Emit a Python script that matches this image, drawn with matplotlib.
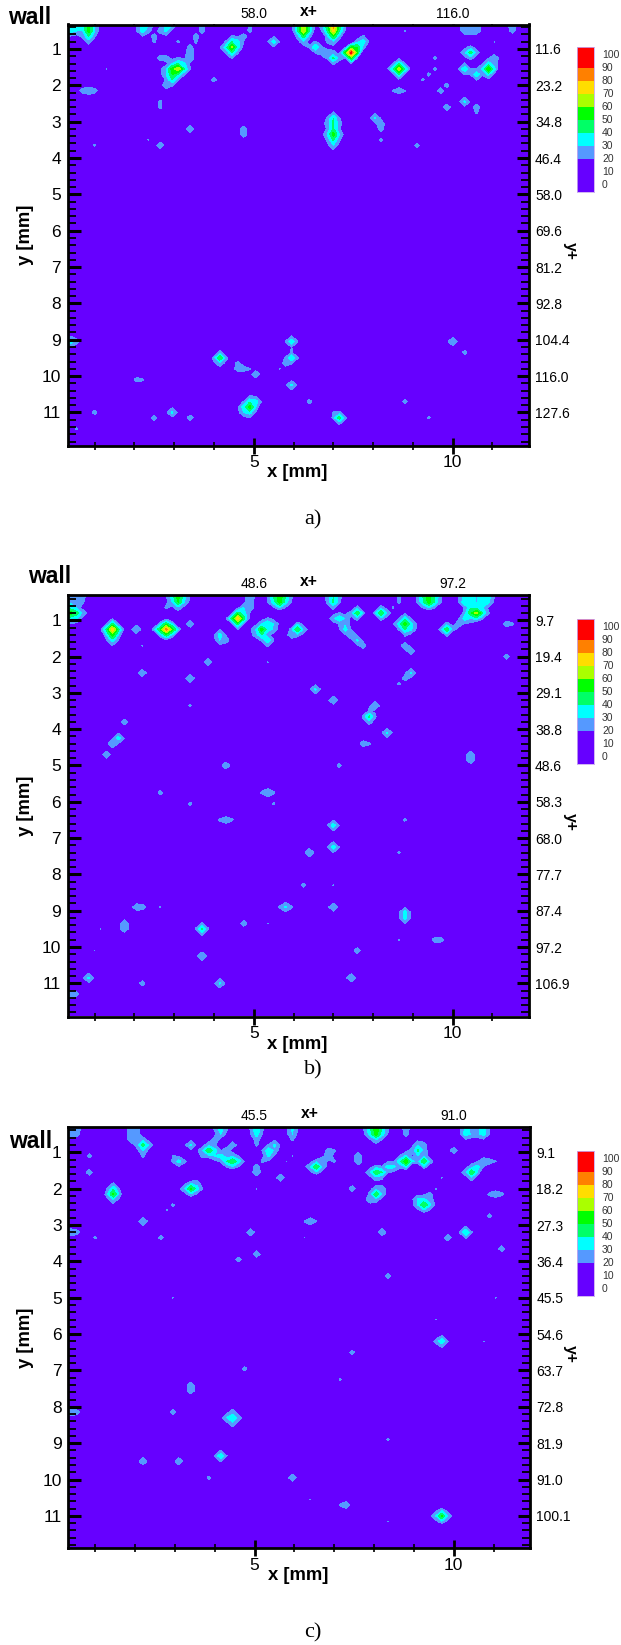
import numpy as np
import matplotlib
matplotlib.use("Agg")
import matplotlib.pyplot as plt
from matplotlib.colors import ListedColormap, BoundaryNorm

W, H = 621, 1645
plt.rcParams['font.family'] = ['Liberation Sans', 'DejaVu Sans']

LEVELS = [0, 10, 20, 30, 40, 50, 60, 70, 80, 90, 100]
COLORS = ['#6600FF', '#6600FF', '#5599FF', '#00FFFF', '#00FF66', '#00FF00',
          '#AAFF00', '#FFDD00', '#FF8000', '#FF0000']
BACKGROUND = 5

# (x mm, y mm, value)
points_a = [
 (.4,.35,35),(.4,.5,35),(.55,.35,32),(.55,.5,30),(.8,.35,55),(.8,.5,55),(.8,.65,40),(.8,.8,25),(.95,.35,30),(.95,.5,28),(.65,.65,22),
 (2.15,.35,35),(2.15,.5,35),(2.3,.35,30),(2.3,.5,25),
 (2.85,.35,35),(2.85,.5,32),(3.0,.35,30),(2.7,.5,25),(2.55,.65,25),(2.45,.8,22),(3.15,.8,22),
 (3.7,.35,25),(3.7,.5,25),(3.6,.65,25),(3.55,.8,22),(3.45,.95,25),(3.45,1.1,28),
 (3.15,1.5,70),(3.0,1.5,55),(3.15,1.35,40),(3.0,1.35,30),(2.85,1.2,25),(2.7,1.2,25),(2.85,1.5,30),(3.0,1.65,50),(3.0,1.8,40),(2.85,1.95,28),
 (3.3,1.5,40),(3.3,1.35,32),(3.45,1.25,28),(3.15,1.65,35),(2.85,1.65,30),
 (3.95,1.9,24),(1.25,1.5,21),(.7,2.2,25),(.85,2.2,28),(1.0,2.2,25),(2.7,2.45,23),(2.7,2.6,23),(3.4,3.15,28),(4.8,3.15,26),(4.8,3.3,26),
 (2.35,3.55,21),(2.7,3.65,27),(1.0,3.65,22),
 (4.4,.95,62),(4.25,.95,35),(4.55,.8,35),(4.4,.8,40),(4.55,.95,28),(4.4,1.1,40),(4.7,.65,25),(4.85,.5,23),(4.85,.35,22),(5.55,.8,35),
 (6.2,.35,70),(6.2,.5,70),(6.2,.65,45),(6.2,.8,28),(6.05,.35,28),(6.35,.35,28),(6.05,.5,25),(6.35,.5,25),
 (7,.35,85),(7,.5,75),(7,.65,50),(6.85,.35,45),(7.15,.35,40),(6.85,.5,35),(7.15,.5,35),(6.85,.8,22),(7,.8,28),
 (6.5,1.0,40),(6.65,1.1,25),(6.85,1.15,28),(7,1.3,42),(7.15,1.25,25),
 (7.45,1.05,95),(7.6,.9,50),(7.75,.75,35),(7.75,.6,22),(7.3,1.05,30),(7.45,1.2,35),
 (8.6,1.5,70),(8.6,1.35,35),(8.45,1.5,30),(8.75,1.5,30),(8.6,1.65,30),(8.85,.45,21),
 (9.55,1.3,23),(9.5,1.5,23),(9.4,1.65,23),(9.3,1.8,22),
 (10.4,1.05,45),(10.25,1.05,28),(10.55,1.05,25),(10.25,1.5,38),
 (10.95,1.5,60),(10.95,1.35,35),(11.1,1.2,28),(10.95,1.65,28),(11.1,1.35,25),(10.55,1.75,38),(10.7,1.75,22),(10.85,1.65,25),
 (10.25,.35,28),(10.4,.35,28),(10.55,.35,28),(10.25,.5,28),(10.4,.5,28),(10.55,.5,28),(11.5,.35,28),(11.5,.5,25),(11,.8,21),
 (8.6,2.2,27),(8.45,2.2,21),(8.75,2.2,21),(9.7,2.15,26),(9.85,2.0,24),(10.35,2.4,32),(10.55,2.6,26),(10.65,2.75,22),(9.85,2.65,27),
 (7,2.9,40),(7,3.05,42),(7,3.2,42),(7,3.35,55),(7,3.5,42),(7,3.65,30),(6.85,3.3,26),(7.15,3.3,26),(6.85,3.05,25),(7.15,3.05,24),
 (8.05,2.95,32),(8.2,3.1,26),(8.25,3.25,25),(8.15,3.45,23),(9.1,3.65,24),
 (.4,9,35),(.4,9.1,30),(.55,9,25),(6,9.05,38),(4.1,9.55,48),(4.1,9.7,28),(4.6,9.65,24),(4.6,9.8,26),(4.75,9.8,25),(4.9,9.85,21),
 (6,9.55,40),(5.85,9.7,26),(5.7,9.85,21),(5.1,10,28),(2.1,10.05,24),(2.25,10.05,22),(6,10.25,32),
 (4.85,10.8,55),(4.7,10.8,35),(5.0,10.65,35),(4.85,10.65,38),(4.85,11,35),(4.7,10.95,30),(5.1,10.7,30),
 (1,10.95,24),(2.9,11,32),(2.45,11.2,25),(3.4,11.2,26),(6.45,10.75,24),(6.95,11,21),(7.2,11.2,45),(8.85,10.75,24),(9.4,11.2,22),
 (10,9.1,30),(10.3,9.3,24),(.5,11.45,22),
]

points_b = [
 (.4,.35,28),(.55,.35,28),(.7,.35,25),(.4,.5,28),(.55,.5,28),(.7,.5,22),(.4,.8,55),(.55,.8,45),(.7,.8,28),(.4,.95,35),(.55,.95,30),(.4,.65,35),(.55,.65,28),
 (1.5,1.3,78),(1.5,1.45,55),(1.5,1.6,35),(1.35,1.3,32),(1.65,1.3,30),(1.5,1.15,35),(2,1.3,30),
 (2.8,1.25,85),(2.65,1.25,50),(2.95,1.25,55),(2.8,1.1,30),(2.8,1.4,32),
 (3.05,.35,55),(3.05,.5,50),(3.05,.65,25),(2.9,.35,35),(3.2,.35,35),(2.9,.5,30),(3.2,.5,30),(2.75,.65,22),
 (3.4,1.05,27),(2.2,1.75,21),(3.85,2.2,28),(2.2,2.45,28),(3.45,2.65,30),(3.4,3.4,22),(1.7,3.85,26),(1.55,4.25,35),(1.4,4.45,30),(1.25,4.65,28),
 (4.15,1.45,35),(4.3,1.55,26),(4.15,1.55,30),
 (4.55,1,80),(4.7,.85,35),(4.7,1,32),(4.4,1,32),(4.55,1.15,35),(4.85,.65,28),(4.85,.5,28),(4.85,.35,30),(4.7,.7,30),
 (5.15,1.3,55),(5.3,1.15,40),(5.45,1.05,30),(5.15,1.45,40),(5.3,1.6,38),(5.3,1.3,35),(5.3,1.75,22),(5,1.3,30),(5,1.45,26),(5.45,1.2,28),(5.15,1.15,25),
 (5.65,.35,58),(5.65,.5,55),(5.5,.35,40),(5.8,.35,40),(5.5,.5,35),(5.8,.5,35),
 (6.05,1.25,50),(5.95,1.35,28),(6.2,1.25,28),
 (7,.35,40),(7,.5,42),(6.85,.35,24),(7.15,.35,24),(7,.65,22),
 (7.1,1,38),(6.95,1,28),(7.25,1,28),(7.25,1.15,28),(7.25,1.3,35),(7.4,1.45,28),(7.55,1.55,32),(7.7,1.65,25),
 (7.65,.8,48),(8.15,.8,50),(8.3,.8,26),(8.6,.35,22),(8.6,.5,22),(8.5,.7,21),(8.4,.85,21),
 (8.75,1.15,55),(8.6,1.15,35),(8.9,1.15,35),(8.75,1,35),(8.75,1.3,40),(8.9,1.3,32),
 (9.4,.35,55),(9.4,.5,55),(9.25,.35,40),(9.55,.35,40),(9.25,.5,38),(9.55,.5,38),(9.8,1.25,48),
 (10.3,.35,35),(10.45,.35,38),(10.6,.35,28),(10.75,.35,38),(10.9,.35,35),(10.3,.5,38),(10.45,.5,40),(10.6,.5,28),(10.75,.5,38),(10.9,.5,32),
 (10.45,.65,38),(10.6,.65,35),(10.75,.65,30),(10.6,.8,65),(10.45,.8,48),(10.75,.8,40),(10.3,.95,35),(10.15,1.05,26),(10.45,.95,30),
 (11.3,1.05,26),(11.45,1.05,22),(11.3,1.95,25),(8.85,1.7,28),(8.9,1.85,28),(9,2.45,32),(8.85,2.6,25),(8.7,2.7,22),
 (6.5,2.95,32),(7,3.15,30),(8.1,3.4,30),(7.95,3.6,42),(7.9,3.75,26),(8.4,4.1,32),(7.8,4.35,26),(7.95,4.35,22),(5.3,2.15,21),
 (10.5,4.75,28),(10.5,4.9,28),(4.35,5.05,28),(7.2,5.05,24),(2.7,5.7,24),(3.4,6,23),(5.3,5.8,30),(5.15,5.8,22),(5.45,5.8,22),(5.55,6,22),
 (4.35,6.55,27),(4.2,6.5,22),(4.5,6.5,22),(6.95,6.7,36),(6.95,7.2,36),(6.45,7.45,30),(8.85,6.5,22),(8.6,7.45,22),(6.25,8.35,24),(6.95,8.35,21),
 (2.05,8.85,27),(2.2,8.85,26),(2.7,8.85,21),(5.75,8.85,32),(5.9,8.85,22),(5.6,8.85,22),(6.95,8.85,30),(1.75,9.35,28),(1.75,9.5,28),(4.8,9.3,26),(5.3,9.3,21),
 (1.2,9.55,21),(3.65,9.55,42),(8.85,9.1,35),(8.85,9.25,35),(9.6,9.8,25),(9.75,9.8,25),(8.6,9.8,21),(7.65,10.05,26),(3.65,10.25,30),(1,10.05,20.5),
 (.8,10.8,32),(2.2,11.05,25),(4.1,11,32),(7.45,10.8,30),(.4,11.25,30),(.55,11.25,24),
]

points_c = [
 (.4,.35,26),(.55,.35,26),(.4,.5,26),(.55,.5,24),
 (1.85,.35,28),(2,.35,25),(1.85,.5,28),(2,.5,25),(1.95,.65,26),(2.1,.7,26),(2.25,.75,30),(2.25,.85,45),(2.4,.85,28),(2.25,1.0,30),(2.25,1.1,22),
 (.8,1.05,24),(.8,1.5,26),(1.5,2.0,38),(1.5,2.15,52),(1.5,2.3,30),(3.4,.75,32),(2.95,1.05,21),(3.15,1.25,34),(3.0,1.25,22),(3.3,1.25,22),
 (3.8,1,50),(3.65,1,30),(3.95,1.0,35),(3.65,1.1,24),(4.1,1.1,35),(4.25,1.25,40),(4.4,1.3,50),(4.55,1.3,35),(4.25,1.1,25),(3.95,1.1,30),(4.4,1.15,24),(4.45,.75,27),(4.3,.9,27),
 (4.1,.35,35),(4.1,.5,30),(4.25,.35,22),(3.95,.35,22),(4.05,.65,25),(4,.75,22),
 (5,.35,40),(5,.5,35),(5,.65,25),(5.05,.8,22),(6,.35,32),(6,.5,30),(6,.65,22),
 (5.5,.85,32),(5.4,1,38),(5.4,1.15,32),(5.25,1.2,22),(5.1,1.35,25),(5.1,1.5,28),(5.55,1,26),(5.55,.9,28),(5.85,1.2,21),(6,1.05,21),(5.7,1.75,28),
 (6.5,1.45,50),(6.35,1.45,30),(6.65,1.45,28),(6.65,1.3,30),(6.8,1.15,28),(6.95,1.2,22),(6.8,1,24),(6.95,.9,22),(7.65,1.1,28),(7.65,1.25,28),
 (8,.35,58),(8,.5,55),(7.85,.35,38),(8.15,.35,38),(7.85,.5,35),(8.15,.5,35),(8,.65,30),(8.85,.35,26),(8.85,.5,25),
 (7.85,1.5,30),(8,1.5,48),(8.15,1.5,40),(8.3,1.45,35),(8.45,1.4,32),(8.6,1.25,38),(8.75,1.2,58),(8.75,1.05,30),(8.6,1.4,22),
 (9.15,.9,42),(9.15,.75,30),(9.3,.8,26),(9.3,.95,26),(9.15,1.05,28),(9.3,1.1,28),(9.3,1.25,50),(9.45,1.25,22),(10,1,27),
 (10.3,.35,34),(10.45,.35,28),(10.6,.35,28),(10.75,.35,34),(10.3,.5,35),(10.45,.5,28),(10.6,.5,28),(10.75,.5,34),
 (10.4,1.5,50),(10.25,1.5,28),(10.55,1.4,35),(10.4,1.35,25),(10.7,1.25,28),(10.85,1.25,25),(11,1.25,21),(10.4,1.65,25),
 (3.35,1.95,52),(3.2,2,30),(3.5,1.95,35),(3.5,1.8,26),(2.95,2.4,22),(2.85,2.55,21),(7.4,1.95,26),
 (8,2.2,48),(7.85,2.25,28),(8.15,2.2,28),(8.15,2.05,26),(8,2.05,28),(8,2.35,22),
 (9.2,2.4,50),(9.05,2.25,32),(9.2,2.25,32),(9.35,2.4,32),(9.05,2.4,30),(9.35,2.25,26),(9.35,2.1,24),(9.5,1.95,21),(9.65,1.75,21),
 (11.1,2.2,27),(10.95,2.2,23),(11.25,2.2,23),(10.95,2.7,24),(5.05,2,21),(2.2,2.95,30),(.4,3.15,28),(.55,3.15,24),(4.85,3.15,28),
 (6.45,2.95,28),(6.6,2.95,21),(6.3,2.95,21),(8.15,3.15,28),(10.25,3.15,40),(9.8,3.4,27),(1,3.4,22),(2.7,3.4,24),(6.25,3.4,20.5),
 (4.6,3.9,25),(5.1,3.85,27),(11.2,3.6,26),(8.35,4.35,25),(2.95,5.05,21),(11,5.05,21),
 (9.75,6.2,38),(9.6,6.2,24),(7.4,6.5,24),(4.8,6.95,24),(7.2,7.2,22),(3.4,7.45,26),(3.4,7.6,28),(2.95,8.15,25),(.4,8.15,28),(.55,8.15,24),
 (4.5,8.3,38),(4.35,8.35,30),(4.65,8.3,26),(4.5,8.15,26),(4.5,8.45,28),(8.4,8.85,22),(4.1,9.3,38),(2.2,9.55,28),(3.15,9.55,28),(3.9,10,23),(6,10,28),
 (6.45,10.5,21),(7.35,10.7,27),(7.2,10.75,22),(9.75,11,52),(9.6,11,30),(9.9,11,28),(8.4,11.2,21),(9.55,5.55,20.5),(10.75,6.2,21),
]

yplus_a = ['11.6','23.2','34.8','46.4','58.0','69.6','81.2','92.8','104.4','116.0','127.6']
yplus_b = ['9.7','19.4','29.1','38.8','48.6','58.3','68.0','77.7','87.4','97.2','106.9']
yplus_c = ['9.1','18.2','27.3','36.4','45.5','54.6','63.7','72.8','81.9','91.0','100.1']
xplus_a = ['58.0', '116.0']
xplus_b = ['48.6', '97.2']
xplus_c = ['45.5', '91.0']
y_major = list(range(1, 12))
x_major = [5, 10]
x_minor = [1, 2, 3, 4, 6, 7, 8, 9, 11]
legend_labels = ['100','90','80','70','60','50','40','30','20','10','0']
legend_edges = [-5, 20, 30, 40, 50, 60, 70, 80, 90, 106]
legend_cols = ['#6600FF','#5599FF','#00FFFF','#00FF66','#00FF00','#AAFF00','#FFDD00','#FF8000','#FF0000']

cmap = ListedColormap(COLORS)
norm = BoundaryNorm(LEVELS, cmap.N)
gx = np.arange(0.25, 12.11, 0.15)
gy = np.arange(0.20, 12.01, 0.15)

fig = plt.figure(figsize=(W / 100, H / 100), dpi=100, facecolor='white')

def fx(p): return p / W
def fy(p): return 1 - p / H

def field(points):
    z = np.full((len(gy), len(gx)), float(BACKGROUND))
    for x, y, v in points:
        i = int(round((y - gy[0]) / 0.15))
        j = int(round((x - gx[0]) / 0.15))
        z[i, j] = max(z[i, j], v)
    # the readings are sparse: each cell also lifts its four neighbours,
    # so a contour blob keeps the footprint it has in the picture
    out = z.copy()
    for i, j in zip(*np.nonzero(z >= 22)):
        v = 0.55 * z[i, j]
        for a, b in ((i - 1, j), (i + 1, j), (i, j - 1), (i, j + 1)):
            if 0 <= a < z.shape[0] and 0 <= b < z.shape[1]:
                out[a, b] = max(out[a, b], v)
    out[0, :] = out[1, :]
    out[:, 0] = out[:, 1]
    return out

def panel(points, box, ylim, xlim, yplus, xplus, wall, plabel, leg):
    L, T, R, B = box
    ax = fig.add_axes([fx(L), fy(B), (R - L) / W, (B - T) / H])
    ax.contourf(gx, gy, field(points), levels=LEVELS, cmap=cmap, norm=norm)
    ax.set_xlim(*xlim)
    ax.set_ylim(*ylim)
    for s in ax.spines.values():
        s.set_linewidth(2.0)
    ax.set_xticks(x_major)
    ax.set_xticks(x_minor, minor=True)
    ax.set_yticks(y_major)
    ax.set_yticks(np.arange(0.4, 11.9, 0.2), minor=True)
    ax.tick_params(axis='y', which='major', direction='in', left=True, right=True,
                   length=9, width=2.2, labelsize=12.5, pad=4.5)
    ax.tick_params(axis='y', which='minor', direction='in', left=True, right=True,
                   length=5.5, width=1.3)
    ax.tick_params(axis='x', which='major', direction='inout', top=False, bottom=True,
                   length=11, width=2.0, labelsize=12.5, pad=1.5)
    ax.tick_params(axis='x', which='minor', direction='inout', top=False, bottom=True,
                   length=6, width=1.2)
    top = ax.secondary_xaxis('top')
    top.set_xticks(x_major)
    top.set_xticks(x_minor, minor=True)
    top.set_xticklabels([])
    top.tick_params(axis='x', which='major', direction='in', length=9, width=2.0)
    top.tick_params(axis='x', which='minor', direction='in', length=5.5, width=1.2)
    top.spines['top'].set_visible(False)

    right = ax.secondary_yaxis('right')
    right.set_yticks(y_major)
    right.set_yticklabels(yplus, fontsize=10)
    right.tick_params(axis='y', which='major', length=0, pad=4.5)
    right.spines['right'].set_visible(False)

    cx = (L + R) / 2
    fig.text(fx(cx - 1), fy(B + 27.5), 'x [mm]', ha='center', va='center',
             fontsize=13.3, fontweight='bold')
    fig.text(fx(25.7), fy((T + B) / 2), 'y [mm]', ha='center', va='center',
             rotation=90, fontsize=13.3, fontweight='bold')
    fig.text(fx(570), fy((T + B) / 2 + 16), 'y+', ha='center', va='center',
             rotation=-90, fontsize=11.3, fontweight='bold')
    fig.text(fx(L + 241.5), fy(T - 13), 'x+', ha='center', va='center',
             fontsize=11.3, fontweight='bold')
    for xv, lab in zip(x_major, xplus):
        ax.annotate(lab, (xv, 1), xycoords=('data', 'axes fraction'),
                    xytext=(0, 7.5), textcoords='offset points',
                    ha='center', va='center', fontsize=10)
    fig.text(fx(wall[0]), fy(wall[1]), 'wall', ha='left', va='center',
             fontsize=16.5, fontweight='bold')
    fig.text(fx(313), fy(plabel[1]), plabel[0], ha='center', va='center',
             fontsize=16, family=['Liberation Serif'])

    lt, lb = leg
    lax = fig.add_axes([fx(577), fy(lb), 17 / W, (lb - lt) / H])
    for i, c in enumerate(legend_cols):
        lax.axhspan(legend_edges[i], legend_edges[i + 1], color=c, lw=0)
    lax.set_ylim(legend_edges[0], legend_edges[-1])
    lax.set_xticks([])
    lax.set_yticks([])
    for s in lax.spines.values():
        s.set_color('#c9a8f0')
        s.set_linewidth(0.6)
    for i, lab in enumerate(legend_labels):
        fig.text(fx(602), fy(lt + 7.5 + i * 13.1), lab, ha='left', va='center',
                 fontsize=7.5, color='#333333')

panel(points_a, (67.5, 24.5, 528.7, 445.5), (11.91, .326), (.32, 11.91),
      yplus_a, xplus_a, (8, 18), ('a)', 520), (47, 192))
panel(points_b, (67.5, 594.7, 528.7, 1016.7), (11.92, .295), (.32, 11.91),
      yplus_b, xplus_b, (27.7, 576.7), ('b)', 1070), (619, 763.5))
panel(points_c, (68.1, 1126.7, 529.9, 1548.3), (11.89, .296), (.32, 11.91),
      yplus_c, xplus_c, (8.7, 1141.7), ('c)', 1633), (1151, 1295.7))

fig.savefig('out.png', dpi=100, facecolor='white')
